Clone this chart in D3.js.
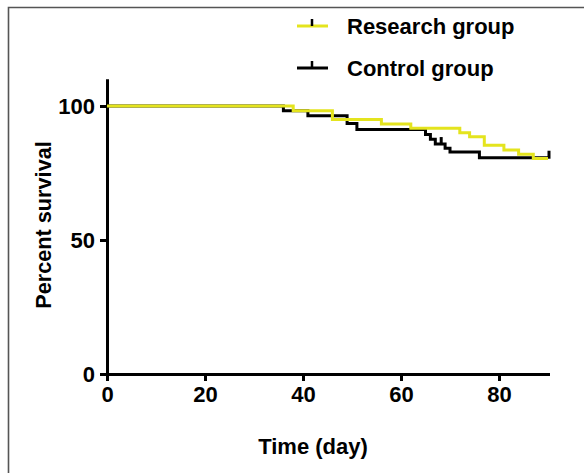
<!DOCTYPE html>
<html><head><meta charset="utf-8">
<script src="https://cdn.jsdelivr.net/npm/d3@7"></script>
<style>html,body{margin:0;padding:0;background:#fff;}svg{display:block;}</style>
</head><body>
<script>
const xTicks = [0, 20, 40, 60, 80];
const yTicks = [0, 50, 100];
const seriesNames = ["Research group", "Control group"];
const researchDays = [0, 38, 46, 56, 62, 72, 74, 77, 81, 84, 87, 90];
const researchSurv = [100, 98.2, 95.0, 93.3, 91.7, 90.0, 88.5, 85.4, 83.6, 82.0, 80.4, 80.4];
const controlDays = [0, 36, 41, 49, 51, 65, 66, 67, 69, 70, 76, 90];
const controlSurv = [100, 98.2, 96.4, 93.5, 91.2, 89.4, 87.6, 85.8, 84.2, 82.8, 80.7, 80.7];
const controlCensorDays = [68, 90];

const W = 584, H = 473;
const FONT = "'Liberation Sans', Arial, sans-serif";
const svg = d3.select("body").append("svg").attr("width", W).attr("height", H);

// frame
svg.append("path").attr("d", `M8.5,${H} L8.5,7.5 L${W},7.5`)
  .attr("fill", "none").attr("stroke", "#555").attr("stroke-width", 1.6);

const x = d3.scaleLinear().domain([0, 90]).range([107, 548]);
const y = d3.scaleLinear().domain([0, 100]).range([374, 106]);

// axes
const gx = svg.append("g").attr("transform", `translate(0,${y(0)})`)
  .call(d3.axisBottom(x).tickValues(xTicks).tickSize(7).tickPadding(5).tickSizeOuter(0));
const gy = svg.append("g").attr("transform", `translate(${x(0)},0)`)
  .call(d3.axisLeft(y).tickValues(yTicks).tickSize(7).tickPadding(5).tickSizeOuter(0));
[gx, gy].forEach(g => {
  g.select(".domain").attr("stroke", "#000").attr("stroke-width", 3);
  g.selectAll(".tick line").attr("stroke", "#000").attr("stroke-width", 3);
  g.selectAll(".tick text").attr("fill", "#000").style("font-family", FONT)
    .style("font-weight", "bold").style("font-size", "22px");
});
gx.select(".domain").attr("d", `M${x(0)-1.5},0.5H${x(90)+2}`);
gy.select(".domain").attr("d", `M0.5,${y(110)}V${y(0)+7}`);

// axis titles
svg.append("text").attr("x", 313).attr("y", 454).attr("text-anchor", "middle")
  .style("font-family", FONT).style("font-weight", "bold").style("font-size", "22px")
  .text("Time (day)");
svg.append("text").attr("transform", `translate(51,225) rotate(-90)`).attr("text-anchor", "middle")
  .style("font-family", FONT).style("font-weight", "bold").style("font-size", "21.7px")
  .text("Percent survival");

const line = d3.line().x(d => x(d[0])).y(d => y(d[1])).curve(d3.curveStepAfter);
const controlData = controlDays.map((d, i) => [d, controlSurv[i]]);
const researchData = researchDays.map((d, i) => [d, researchSurv[i]]);

const YEL = "#e4e41e";
svg.append("path").datum(controlData).attr("d", line)
  .attr("fill", "none").attr("stroke", "#000").attr("stroke-width", 3);
function levelAt(days, surv, t) {
  let v = surv[0];
  for (let i = 0; i < days.length; i++) if (days[i] <= t) v = surv[i];
  return v;
}
svg.selectAll(".ccens").data(controlCensorDays).enter().append("line")
  .attr("x1", d => x(d) + 1).attr("x2", d => x(d) + 1)
  .attr("y1", d => y(levelAt(controlDays, controlSurv, d)) + 1)
  .attr("y2", d => y(levelAt(controlDays, controlSurv, d)) - 7)
  .attr("stroke", "#000").attr("stroke-width", 3);
svg.append("path").datum(researchData).attr("d", line)
  .attr("fill", "none").attr("stroke", YEL).attr("stroke-width", 3);

// legend
const legY = [26, 68];
const legCol = [YEL, "#000"];
seriesNames.forEach((name, i) => {
  const g = svg.append("g");
  g.append("line").attr("x1", 297).attr("x2", 328).attr("y1", legY[i]).attr("y2", legY[i])
    .attr("stroke", legCol[i]).attr("stroke-width", 3);
  g.append("line").attr("x1", 312).attr("x2", 312).attr("y1", legY[i]).attr("y2", legY[i] - 7)
    .attr("stroke", "#000").attr("stroke-width", 2.5);
  g.append("text").attr("x", 347).attr("y", legY[i] + 7.5)
    .style("font-family", FONT).style("font-weight", "bold").style("font-size", "22px")
    .text(name);
});
</script>
</body></html>
